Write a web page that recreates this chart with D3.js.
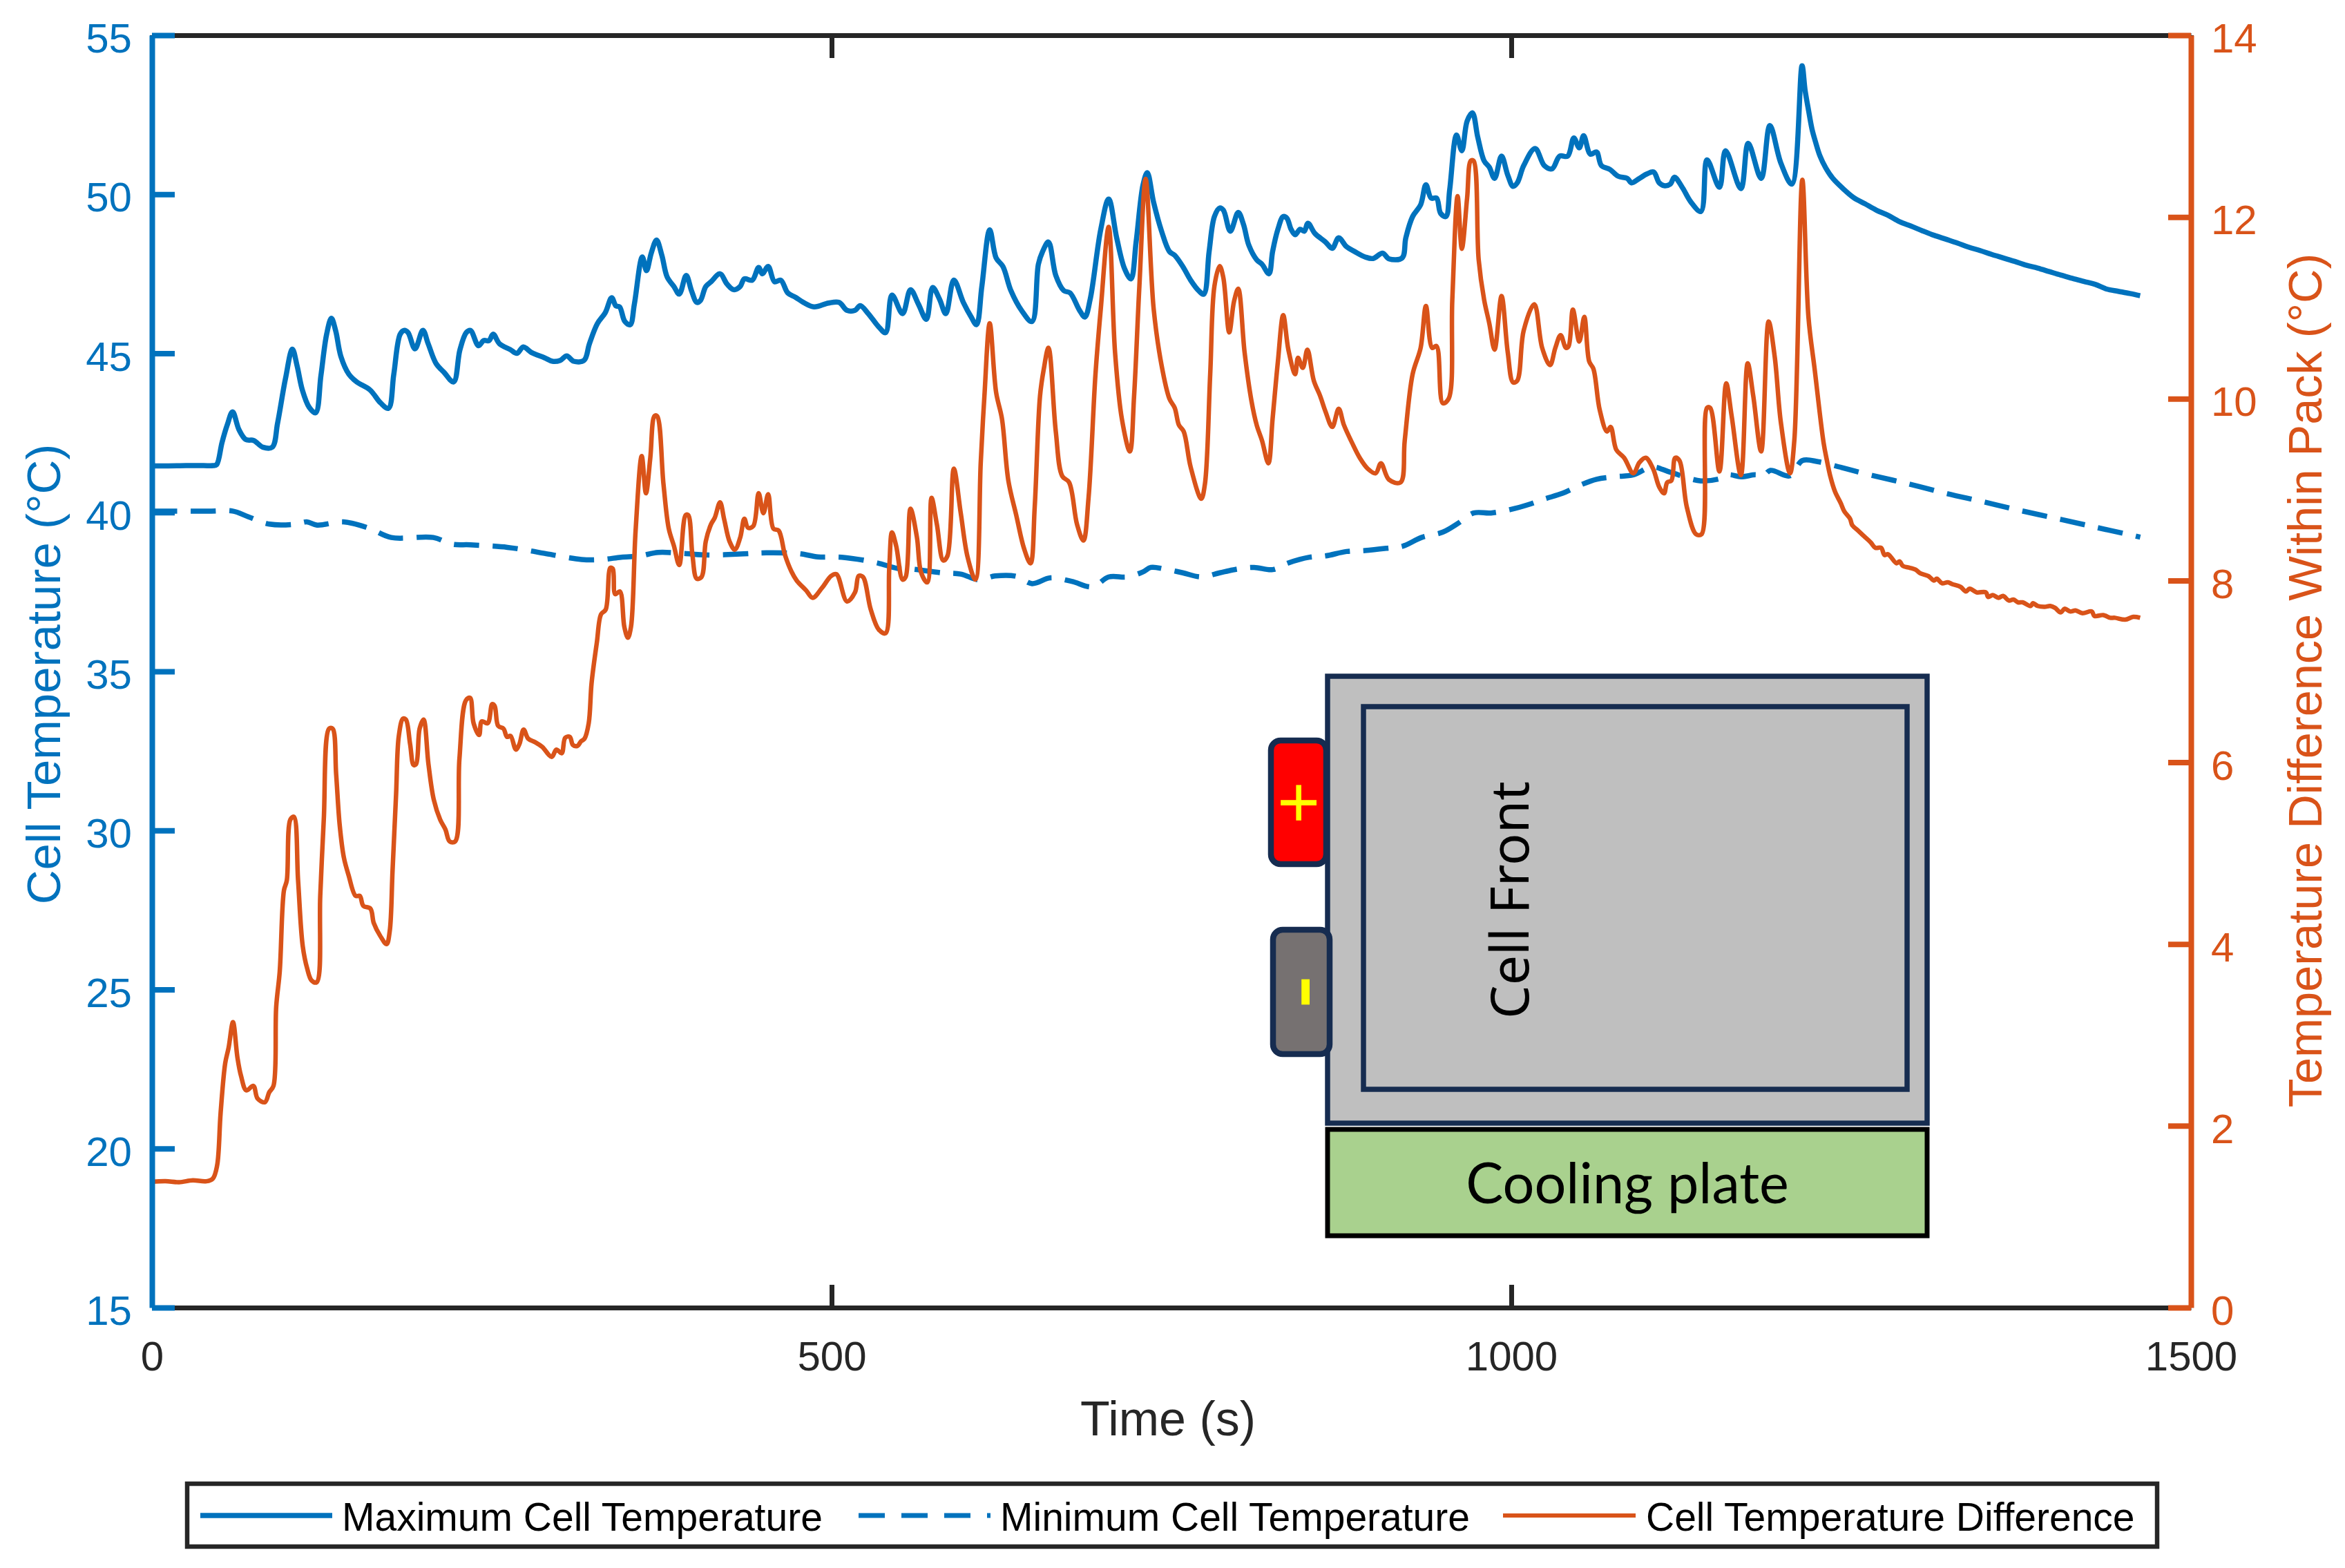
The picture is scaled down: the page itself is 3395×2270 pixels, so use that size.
<!DOCTYPE html>
<html>
<head>
<meta charset="utf-8">
<script src="https://cdnjs.cloudflare.com/ajax/libs/d3/7.8.5/d3.min.js"></script>
<style>
  html, body { margin: 0; padding: 0; background: #fff; }
  svg { display: block; }
</style>
</head>
<body>
<div id="chart"></div>
<script>
// [time s, degC]
var maxCellTemp = [[0,41.46],[12,41.46],[25,41.47],[38,41.47],[45,41.47],[47.6,41.5],[51.5,42.19],[55.4,42.75],[59.3,43.16],[64,42.6],[69,42.29],[74.9,42.26],[81.5,42.05],[88.5,42.05],[92.4,42.8],[98.2,44.2],[103.3,45.13],[106.8,44.6],[110.6,43.85],[115.7,43.3],[120.4,43.13],[124.3,44.3],[128.5,45.6],[132,46.1],[135.2,45.7],[139,44.9],[144.9,44.34],[150.7,44.1],[160.4,43.85],[168.2,43.44],[174,43.27],[177.9,44.34],[182.6,45.6],[185.7,45.72],[188.4,45.65],[193.5,45.14],[199.3,45.72],[203.2,45.3],[209,44.68],[214.9,44.4],[221.9,44.1],[226.5,45.1],[231.2,45.65],[234.3,45.72],[240.2,45.24],[244,45.4],[247.9,45.4],[251,45.6],[255.7,45.3],[263.5,45.12],[268.5,45],[273.2,45.2],[279,45.03],[288.8,44.86],[294.6,44.75],[300.4,44.78],[305.1,44.92],[310.2,44.75],[317.9,44.78],[321.8,45.3],[327.6,45.93],[333.5,46.28],[338.2,46.75],[341.3,46.49],[344,46.46],[347.9,46],[351.8,45.9],[354.9,46.55],[360.7,48.03],[363.8,47.6],[367.3,48.15],[371.2,48.56],[375.1,48.08],[379,47.4],[384,47.1],[387.9,46.86],[393,47.45],[396.9,46.97],[400.8,46.6],[403.5,46.66],[407.4,47.1],[411.3,47.25],[417.9,47.5],[423,47.18],[428,47],[432.7,47.1],[435.8,47.34],[441.6,47.3],[446.3,47.7],[449,47.5],[453.3,47.73],[458,47.25],[462.6,47.3],[467.7,46.9],[473.5,46.76],[479.3,46.6],[487.1,46.46],[497.7,46.58],[505.5,46.6],[511.3,46.35],[517.2,46.35],[521,46.5],[526.9,46.25],[534.7,45.83],[539.7,45.65],[544.4,46.83],[552.2,46.25],[558,47],[563.8,46.55],[569.7,46.07],[574.3,47.07],[579.4,46.7],[584,46.25],[589.9,47.3],[596.9,46.6],[602.7,46.14],[606.6,45.9],[610.5,47.1],[616.3,48.88],[621,48],[626,47.73],[631.9,46.97],[639.7,46.35],[647.4,46],[652.1,47.8],[655.2,48.2],[659.5,48.5],[664.9,47.45],[670.8,46.97],[675.4,46.9],[682.4,46.35],[686.3,46.14],[690.2,46.7],[698,48.9],[703.8,49.85],[709.7,48.63],[715.5,47.66],[720.2,47.34],[724,48.5],[729.1,50.3],[732.2,50.68],[736.9,49.74],[742.7,48.84],[748.5,48.2],[752.4,48.08],[758.3,47.73],[764.1,47.3],[770,46.97],[773.8,46.86],[777.7,48.2],[781.6,49.3],[785.5,49.57],[788.2,49.5],[793.3,48.84],[799.1,49.43],[803,49.05],[806.9,48.4],[812.7,47.94],[816.6,47.8],[821.7,47.5],[824.4,48.2],[828.3,48.9],[832.2,49.3],[834.9,49.25],[838,48.9],[841,48.73],[844.6,48.9],[847.7,48.84],[850.4,49.09],[855.5,48.77],[863.3,48.5],[868.3,48.3],[873,48.63],[878.8,48.35],[884.7,48.2],[892.4,48.03],[898.3,47.98],[905.3,48.15],[910,47.97],[919.7,48],[922.4,48.63],[927.4,49.3],[933.3,49.67],[937.2,50.3],[941,49.88],[945,49.88],[948,49.4],[951.9,49.3],[954.7,50.15],[959.7,51.86],[963.6,51.37],[967.5,52.3],[971.4,52.56],[975.3,51.8],[980,51.05],[983.8,50.85],[987.7,50.5],[992.8,51.2],[997.4,50.6],[1001.3,50.25],[1004.4,50.36],[1009.1,50.9],[1017.5,51.44],[1024.3,50.9],[1030,50.8],[1035.6,51.2],[1041.5,51.2],[1046,51.77],[1050,51.46],[1053.2,51.84],[1058.2,51.26],[1062.7,51.33],[1066.3,50.9],[1072.6,50.78],[1078.5,50.57],[1085.3,50.5],[1088.5,50.36],[1094.3,50.5],[1099.8,50.64],[1104.7,50.7],[1108.8,50.36],[1112.4,50.27],[1117,50.32],[1120,50.54],[1126,50.2],[1131.9,49.77],[1139.5,49.46],[1144,51.08],[1153.1,50.22],[1157.6,51.37],[1168.9,50.18],[1174.3,51.6],[1183.8,50.5],[1190.2,52.16],[1198.3,50.98],[1206.4,50.32],[1213.9,54.04],[1216.1,53.28],[1218.7,52.63],[1221.2,52.05],[1223.7,51.66],[1227.1,51.2],[1231.4,50.82],[1236.5,50.5],[1243.2,50.21],[1251.7,49.9],[1260.2,49.7],[1268.6,49.5],[1277.1,49.34],[1285.6,49.14],[1294,49],[1302.5,48.85],[1311,48.71],[1319.5,48.59],[1328,48.47],[1336.4,48.34],[1344.9,48.23],[1353.3,48.11],[1361.8,48],[1370.3,47.89],[1378.7,47.77],[1387.2,47.68],[1395.7,47.57],[1404.1,47.46],[1412.6,47.36],[1421.1,47.26],[1429.5,47.17],[1438,47.02],[1446.5,46.95],[1455,46.88],[1462.6,46.81]];

var minCellTemp = [[0,40.04],[15,40.04],[30,40.04],[43.8,40.04],[59.3,40.04],[71,39.86],[86.5,39.63],[106,39.63],[113.8,39.7],[121.5,39.6],[141,39.7],[160.4,39.49],[176,39.21],[207,39.21],[220.7,39],[234.3,38.98],[261.5,38.9],[277,38.8],[288.8,38.71],[316,38.52],[331.5,38.52],[345.2,38.59],[358.8,38.63],[372.4,38.74],[389.9,38.71],[409.3,38.66],[432.7,38.69],[452,38.73],[476.3,38.7],[490,38.6],[507.4,38.59],[532.7,38.42],[548.3,38.24],[558,38.22],[581.3,38.1],[595,38.06],[608.5,37.88],[620.2,38],[635.8,37.99],[647.4,37.76],[661,37.94],[676.6,37.83],[692.1,37.66],[703.8,37.97],[717.4,37.97],[729.1,38.13],[734.9,38.27],[744.7,38.22],[758.3,38.1],[771.9,37.97],[785.5,38.1],[799.1,38.22],[810.8,38.27],[824.4,38.2],[836,38.41],[851.6,38.59],[863.3,38.63],[878.8,38.77],[892.4,38.8],[908,38.87],[920.3,38.94],[933.9,39.21],[949.7,39.38],[961,39.66],[972.3,39.98],[985,39.98],[999.4,40.09],[1013,40.25],[1024.3,40.42],[1037.8,40.6],[1051.4,40.87],[1062.7,41.04],[1076.3,41.12],[1089.8,41.18],[1103.4,41.43],[1117,41.26],[1139.5,40.99],[1155.4,41.08],[1159.9,41.18],[1168.9,41.12],[1180.2,41.18],[1184.7,41.12],[1190.6,41.32],[1205,41.15],[1214.1,41.63],[1226,41.59],[1243,41.41],[1261.9,41.2],[1290.7,40.91],[1319.4,40.6],[1347.4,40.33],[1375.3,40.05],[1404.1,39.78],[1431.2,39.52],[1456.6,39.28],[1462.7,39.22]];

var tempDifference = [[0,1.385],[10,1.39],[20,1.38],[30,1.4],[40,1.39],[44.8,1.42],[47.9,1.56],[50.5,2.14],[53.9,2.69],[56.4,2.86],[59.6,3.14],[62.9,2.75],[65.5,2.55],[69.4,2.39],[74.6,2.44],[77.7,2.3],[83.1,2.26],[86.3,2.37],[89.4,2.44],[91.4,3.31],[94,3.7],[97.1,4.59],[99.2,4.7],[101.8,5.37],[104.4,5.4],[107.5,4.7],[110.9,3.98],[114.2,3.73],[117.4,3.6],[121.2,3.58],[123.8,4.53],[126.4,5.37],[130.3,6.37],[132.9,6.37],[135.5,5.87],[138.1,5.31],[141.2,4.95],[144.6,4.76],[149.8,4.53],[152.9,4.53],[155.5,4.42],[160.7,4.39],[163.2,4.23],[167.9,4.09],[172.6,4],[174.9,4.14],[177,4.81],[179.6,5.65],[181.6,6.29],[184.7,6.48],[186.8,6.47],[189.9,6.2],[192.5,5.97],[194.3,5.98],[196.9,6.37],[199.8,6.47],[203.4,5.98],[207.3,5.59],[212,5.37],[215.9,5.26],[219,5.13],[223.1,5.13],[226.2,6.04],[230.9,6.68],[234,6.71],[236.6,6.43],[240.7,6.3],[242.6,6.45],[247,6.43],[250.3,6.64],[252.1,6.62],[254.7,6.4],[258.6,6.37],[261.2,6.28],[263.8,6.29],[267.7,6.14],[270.3,6.2],[273.4,6.36],[276.8,6.26],[282,6.22],[287.1,6.17],[294.1,6.06],[297.5,6.14],[301.4,6.1],[304,6.27],[307.4,6.28],[309.7,6.19],[313,6.18],[315.6,6.23],[318.2,6.26],[321.3,6.43],[323.4,6.87],[327.3,7.32],[330.4,7.63],[333.8,7.68],[337.2,8.14],[339,8.13],[340.8,7.85],[344.2,7.88],[347.5,7.49],[350.1,7.37],[352.4,7.49],[355.8,8.55],[360.3,9.37],[363.4,8.96],[366.6,9.35],[369.7,9.81],[371.6,9.81],[376.3,9.06],[380.2,8.57],[384,8.38],[387.9,8.17],[392.6,8.72],[394.5,8.72],[397.6,8.28],[400.8,8.02],[404.3,8.04],[407.4,8.43],[411.3,8.62],[414,8.69],[417.9,8.86],[421,8.67],[424.9,8.43],[428.8,8.34],[432.7,8.47],[435.8,8.68],[438.5,8.58],[442.4,8.6],[446.3,8.96],[449.8,8.74],[453.3,8.95],[457.2,8.57],[461,8.55],[465.7,8.28],[470.4,8.1],[474.3,8],[481.3,7.89],[486,7.81],[493,7.92],[499.6,8.05],[503.5,8.07],[511.3,7.77],[517.2,7.87],[519.9,8.05],[523,8.04],[528.8,7.68],[534.7,7.46],[539.7,7.42],[542.4,8.14],[544.4,8.53],[547.5,8.38],[552.2,8.01],[554.5,8.04],[558,8.79],[562.7,8.48],[565.8,8.09],[570.4,7.98],[573.5,8.91],[577.4,8.62],[582.1,8.22],[585.2,8.27],[589.9,9.23],[595,8.74],[600,8.26],[605.8,8.01],[609.7,9.3],[612.4,10.03],[616.3,10.83],[621,10.07],[625.3,9.78],[630,9.1],[635.8,8.72],[641.6,8.35],[646.3,8.19],[649.4,8.81],[653.3,10.03],[656,10.32],[659.5,10.56],[664.9,9.64],[669.6,9.15],[674.7,9.08],[680.5,8.62],[685.2,8.44],[689,8.91],[694.1,10.27],[698,10.99],[703.8,11.89],[708.5,10.51],[713.5,9.78],[719.4,9.42],[722.5,10.03],[726.4,11.24],[731,12.42],[736.9,10.99],[742.7,10.37],[748.5,10],[752.4,9.9],[755.5,9.71],[759,9.64],[764.1,9.25],[771.9,8.9],[774.6,9.06],[778.5,10.27],[781.6,11.24],[785.5,11.46],[788.2,11.33],[792.5,10.73],[796,11.07],[799.1,11.21],[803.8,10.51],[808.8,9.98],[812.7,9.71],[816.6,9.54],[821.3,9.29],[824.4,9.78],[828.3,10.41],[832.2,10.92],[836,10.54],[841,10.27],[843.1,10.45],[846.6,10.34],[850,10.54],[854.7,10.2],[859.4,10.03],[863.3,9.86],[868.3,9.69],[873,9.89],[876.9,9.71],[882.7,9.52],[888.5,9.35],[894.4,9.23],[900.2,9.18],[904.1,9.29],[910,9.11],[918.5,9.08],[921.6,9.54],[927.4,10.27],[933.3,10.56],[937.2,11.02],[941.8,10.56],[945,10.58],[949.6,9.95],[953.9,10],[956.6,11.09],[960.5,12.23],[963.6,11.65],[967.5,12.21],[970.2,12.62],[972.2,12.62],[976,11.53],[980,11.09],[983.8,10.83],[987.7,10.54],[992.8,11.13],[997.4,10.51],[1001.3,10.18],[1004.4,10.2],[1009.1,10.75],[1016.9,11.04],[1022.7,10.56],[1028.5,10.37],[1032.4,10.56],[1036.3,10.7],[1040.2,10.56],[1042.2,10.58],[1045.3,10.98],[1050,10.63],[1053.7,10.9],[1057.3,10.41],[1060.4,10.33],[1065,9.88],[1070.4,9.64],[1073.1,9.69],[1077.2,9.44],[1083,9.35],[1089.8,9.18],[1094.3,9.3],[1098.9,9.35],[1104.3,9.23],[1108.8,9.03],[1112.4,8.96],[1114.7,9.08],[1117.8,9.1],[1120.6,9.35],[1123.7,9.32],[1129.1,8.81],[1135.9,8.51],[1140,8.51],[1144,9.9],[1146.3,9.9],[1153.1,9.2],[1158.1,10.17],[1162.1,9.81],[1168.9,9.16],[1173.9,10.39],[1178,10.03],[1183.8,9.42],[1189.3,10.85],[1193.8,10.46],[1198.3,9.74],[1205,9.18],[1208.2,9.54],[1214.1,12.41],[1218.6,10.9],[1223.2,10.32],[1229.7,9.52],[1232.2,9.32],[1234.8,9.14],[1238.1,8.98],[1242.4,8.85],[1245,8.76],[1249.2,8.68],[1250.8,8.61],[1255.1,8.55],[1259.3,8.49],[1264.4,8.42],[1267.8,8.36],[1272,8.36],[1274.6,8.28],[1277.1,8.29],[1283.4,8.19],[1285.6,8.21],[1288.1,8.16],[1293.2,8.14],[1297.4,8.12],[1300.8,8.08],[1306.7,8.05],[1311,8],[1313,8.02],[1316.9,7.97],[1321.1,7.98],[1324.5,7.96],[1330.5,7.93],[1334.4,7.88],[1337.2,7.91],[1342.3,7.87],[1349.1,7.87],[1350.8,7.82],[1354.2,7.84],[1358.4,7.81],[1361.8,7.83],[1366,7.78],[1369.4,7.79],[1372.8,7.76],[1376.2,7.76],[1382.1,7.72],[1383.8,7.75],[1387.2,7.72],[1392.3,7.71],[1396.5,7.72],[1399.9,7.7],[1404.1,7.65],[1407.2,7.69],[1411,7.66],[1415.1,7.67],[1420.2,7.64],[1427,7.66],[1429,7.61],[1435.5,7.62],[1440.6,7.59],[1444,7.59],[1451.6,7.57],[1457.5,7.6],[1462.6,7.59]];

var xTicks = [0, 500, 1000, 1500];
var leftTicks = [15, 20, 25, 30, 35, 40, 45, 50, 55];
var rightTicks = [0, 2, 4, 6, 8, 10, 12, 14];
var legendNames = ["Maximum Cell Temperature", "Minimum Cell Temperature", "Cell Temperature Difference"];

var BLUE = "#0072BD", ORANGE = "#D95319", DARK = "#262626", NAVY = "#162C50";
var FONT = "'Liberation Sans', Arial, sans-serif";

var width = 3395, height = 2270;
var plot = { left: 220, right: 3172, top: 51, bottom: 1893 };

var svg = d3.select("#chart").append("svg").attr("width", width).attr("height", height)
  .style("background", "#fff");

var x = d3.scaleLinear().domain([0, 1500]).range([plot.left, plot.right]);
var yLeft = d3.scaleLinear().domain([15, 55]).range([plot.bottom, plot.top]);
var yRight = d3.scaleLinear().domain([0, 14]).range([plot.bottom, plot.top]);

function styleAxis(g, color, strokeW, fontSize) {
  g.selectAll("path.domain").attr("stroke", color).attr("stroke-width", strokeW);
  g.selectAll(".tick line").attr("stroke", color).attr("stroke-width", strokeW);
  g.selectAll(".tick text").attr("fill", color).attr("font-family", FONT).attr("font-size", fontSize);
}

// x axes first, the coloured y axes sit over their corners
var xBottom = svg.append("g").attr("transform", "translate(0," + plot.bottom + ")")
  .call(d3.axisBottom(x).tickValues(xTicks).tickSizeInner(-33).tickSizeOuter(0).tickPadding(48).tickFormat(d3.format("d")));
styleAxis(xBottom, DARK, 7, 60);
var xTop = svg.append("g").attr("transform", "translate(0," + plot.top + ")")
  .call(d3.axisTop(x).tickValues(xTicks).tickSizeInner(-33).tickSizeOuter(0).tickFormat(""));
styleAxis(xTop, DARK, 7, 60);

// lines
var curve = d3.curveCatmullRom.alpha(0.5);
var lineLeft = d3.line().x(function(d) { return x(d[0]); }).y(function(d) { return yLeft(d[1]); }).curve(curve);
var lineRight = d3.line().x(function(d) { return x(d[0]); }).y(function(d) { return yRight(d[1]); }).curve(curve);

svg.append("path").datum(minCellTemp).attr("d", lineLeft).attr("fill", "none")
  .attr("stroke", BLUE).attr("stroke-width", 7.5).attr("stroke-dasharray", "36.5,19.5");
svg.append("path").datum(maxCellTemp).attr("d", lineLeft).attr("fill", "none")
  .attr("stroke", BLUE).attr("stroke-width", 7.5).attr("stroke-linejoin", "round");
svg.append("path").datum(tempDifference).attr("d", lineRight).attr("fill", "none")
  .attr("stroke", ORANGE).attr("stroke-width", 6.5).attr("stroke-linejoin", "round");

var axLeft = svg.append("g").attr("transform", "translate(" + plot.left + ",0)")
  .call(d3.axisLeft(yLeft).tickValues(leftTicks).tickSizeInner(-33).tickSizeOuter(0).tickPadding(29));
styleAxis(axLeft, BLUE, 8, 60);
axLeft.selectAll(".tick text").attr("dy", ".41em");
var axRight = svg.append("g").attr("transform", "translate(" + plot.right + ",0)")
  .call(d3.axisRight(yRight).tickValues(rightTicks).tickSizeInner(-33).tickSizeOuter(0).tickPadding(29));
styleAxis(axRight, ORANGE, 8, 60);
axRight.selectAll(".tick text").attr("dy", ".41em");

// axis titles
svg.append("text").text("Time (s)").attr("x", 1691).attr("y", 2078).attr("text-anchor", "middle")
  .attr("font-family", FONT).attr("font-size", 70).attr("fill", DARK);
svg.append("text").text("Cell Temperature (°C)").attr("transform", "translate(87,976) rotate(-90)")
  .attr("text-anchor", "middle").attr("font-family", FONT).attr("font-size", 69).attr("fill", BLUE);
svg.append("text").text("Temperature Difference Within Pack (°C)").attr("transform", "translate(3361,985) rotate(-90)")
  .attr("text-anchor", "middle").attr("font-family", FONT).attr("font-size", 68.5).attr("fill", ORANGE);

// legend
svg.append("rect").attr("x", 271).attr("y", 2148).attr("width", 2852).attr("height", 91)
  .attr("fill", "#fff").attr("stroke", DARK).attr("stroke-width", 6.5);
var legendRows = [
  { x1: 290, x2: 481, tx: 495, color: BLUE, w: 7.5, dash: null },
  { x1: 1243, x2: 1434, tx: 1448, color: BLUE, w: 7, dash: "38,24" },
  { x1: 2176, x2: 2368, tx: 2383, color: ORANGE, w: 6, dash: null }
];
legendRows.forEach(function(r, i) {
  svg.append("line").attr("x1", r.x1).attr("x2", r.x2).attr("y1", 2194).attr("y2", 2194)
    .attr("stroke", r.color).attr("stroke-width", r.w).attr("stroke-dasharray", r.dash);
  svg.append("text").text(legendNames[i]).attr("x", r.tx).attr("y", 2216)
    .attr("font-family", FONT).attr("font-size", 57).attr("fill", "#000");
});

// cell sketch
svg.append("rect").attr("x", 1922).attr("y", 979).attr("width", 868).attr("height", 647)
  .attr("fill", "#BFBFBF").attr("stroke", NAVY).attr("stroke-width", 7.5);
svg.append("rect").attr("x", 1974).attr("y", 1023).attr("width", 787).attr("height", 554)
  .attr("fill", "#BFBFBF").attr("stroke", NAVY).attr("stroke-width", 7.5);
svg.append("rect").attr("x", 1840).attr("y", 1072).attr("width", 80).attr("height", 179).attr("rx", 14)
  .attr("fill", "#FF0000").attr("stroke", NAVY).attr("stroke-width", 8.5);
svg.append("rect").attr("x", 1843).attr("y", 1346).attr("width", 82).attr("height", 180).attr("rx", 14)
  .attr("fill", "#767171").attr("stroke", NAVY).attr("stroke-width", 8.5);
svg.append("rect").attr("x", 1922).attr("y", 1635).attr("width", 868).attr("height", 154)
  .attr("fill", "#A9D18E").attr("stroke", "#000").attr("stroke-width", 7);
svg.append("text").text("+").attr("transform", "translate(1945,1162) rotate(-90) translate(0,-30)")
  .attr("text-anchor", "middle").attr("font-family", FONT).attr("font-size", 105).attr("fill", "#FFFF00");
svg.append("text").text("-").attr("transform", "translate(1930,1436) rotate(-90)")
  .attr("text-anchor", "middle").attr("font-family", FONT).attr("font-size", 150).attr("fill", "#FFFF00");
svg.append("text").text("Cell Front").attr("transform", "translate(2213,1303) rotate(-90)")
  .attr("text-anchor", "middle").attr("font-family", "'Noto Sans', sans-serif").attr("font-size", 77).attr("fill", "#000");
svg.append("text").text("Cooling plate").attr("x", 2356).attr("y", 1742)
  .attr("text-anchor", "middle").attr("font-family", "Lato, sans-serif").attr("font-size", 81).attr("fill", "#000");
</script>
</body>
</html>
